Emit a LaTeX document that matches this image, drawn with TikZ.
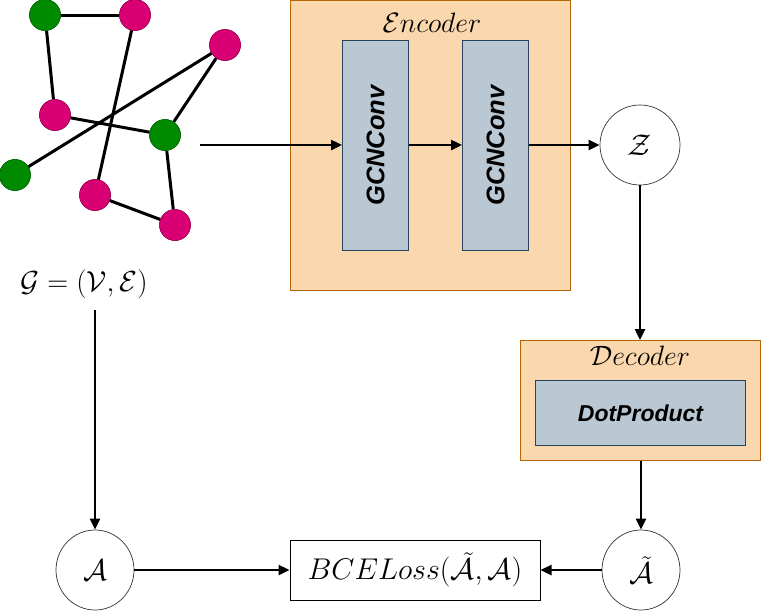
\RequirePackage{fix-cm}
\documentclass[tikz,border=0pt]{standalone}
\usepackage{fontspec}
\newfontfamily\arialf{Liberation Sans}
\usetikzlibrary{arrows.meta,shapes.geometric}
\definecolor{orfill}{HTML}{FAD7AC}
\definecolor{ordraw}{HTML}{B46504}
\definecolor{blfill}{HTML}{BAC8D3}
\definecolor{bldraw}{HTML}{23445D}
\definecolor{gnode}{HTML}{008A00}
\definecolor{pnode}{HTML}{D80073}
\tikzset{
  gn/.style={circle,fill=gnode,draw=gnode!70!black,line width=0.5pt,minimum size=31pt,inner sep=0pt},
  pn/.style={circle,fill=pnode,draw=pnode!70!black,line width=0.5pt,minimum size=31pt,inner sep=0pt},
  gedge/.style={line width=3pt,black},
  outerbox/.style={draw=ordraw,fill=orfill,line width=1pt},
  innerbox/.style={draw=bldraw,fill=blfill,line width=1pt,inner sep=0pt},
  arr/.style={line width=2.4pt,-{Triangle[length=11pt,width=10pt]}},
  roundn/.style={ellipse,draw=black!80,line width=0.7pt,minimum width=78pt,minimum height=80pt,inner sep=0pt,font=\fontsize{30}{32}\selectfont},
  lbl/.style={font=\fontsize{30}{32}\selectfont},
  sanslbl/.style={font=\arialf\bfseries\itshape\fontsize{23}{25}\selectfont},
  convlbl/.style={font=\arialf\bfseries\itshape\fontsize{25.5}{27}\selectfont},
}
\begin{document}
\begin{tikzpicture}[x=1pt,y=-1pt]
\useasboundingbox (0,0) rectangle (761,614);
% graph
\node[gn] (g1) at (45,15) {};
\node[pn] (p1) at (135,15) {};
\node[pn] (p2) at (225,45) {};
\node[pn] (p3) at (55,115) {};
\node[gn] (g2) at (165,135) {};
\node[gn] (g3) at (15,175) {};
\node[pn] (p4) at (95,195) {};
\node[pn] (p5) at (175,225) {};
\draw[gedge] (g1) -- (p1);
\draw[gedge] (g1) -- (p3);
\draw[gedge] (p1) -- (p4);
\draw[gedge] (p2) -- (g3);
\draw[gedge] (p2) -- (g2);
\draw[gedge] (p3) -- (g2);
\draw[gedge] (g2) -- (p5);
\draw[gedge] (p4) -- (p5);
\node[gn] at (g1) {};
\node[pn] at (p1) {};
\node[pn] at (p2) {};
\node[pn] at (p3) {};
\node[gn] at (g2) {};
\node[gn] at (g3) {};
\node[pn] at (p4) {};
\node[pn] at (p5) {};
\coordinate (gout) at (200,145);
% encoder
\node[outerbox,minimum width=280pt,minimum height=290pt,anchor=north west] (enc) at (290,0) {};
\node[font=\fontsize{28}{30}\selectfont] (enct) at (432,23) {$\mathcal{E}ncoder$};
\node[innerbox,minimum width=66pt,minimum height=210pt,anchor=north west] (c1) at (342,40) {};
\node[rotate=90,convlbl] at (c1.center) {GCNConv};
\node[innerbox,minimum width=66pt,minimum height=210pt,anchor=north west] (c2) at (462,40) {};
\node[rotate=90,convlbl] at (c2.center) {GCNConv};
\node[roundn,minimum width=80pt] (z) at (640,145) {$\mathcal{Z}$};
% decoder
\node[outerbox,minimum width=240pt,minimum height=120pt,anchor=north west] (dec) at (520,340) {};
\node[font=\fontsize{28}{30}\selectfont] (dect) at (640,356) {$\mathcal{D}ecoder$};
\node[innerbox,minimum width=210pt,minimum height=65pt,anchor=north west,sanslbl] (dp) at (535,380) {DotProduct};
% bottom
\node[font=\fontsize{29}{31}\selectfont] (glbl) at (84,284) {$\mathcal{G}=(\mathcal{V},\mathcal{E})$};
\coordinate (gdown) at (95,310);
\node[roundn] (a) at (95,570) {$\mathcal{A}$};
\node[roundn] (at) at (641,570) {$\tilde{\mathcal{A}}$};
\node[draw=black,line width=1pt,minimum width=250pt,minimum height=60pt,inner sep=0pt,lbl] (bce) at (415,570) {$BCELoss(\tilde{\mathcal{A}},\mathcal{A})$};
% arrows
\draw[arr] (gout) -- (c1.west |- gout);
\draw[arr] (c1.east |- gout) -- (c2.west |- gout);
\draw[arr] (c2.east |- gout) -- (z.west);
\draw[arr] (z.south) -- (dec.north -| z);
\draw[arr] (dec.south -| at) -- (at.north);
\draw[arr] (gdown) -- (a.north);
\draw[arr] (a.east) -- (bce.west);
\draw[arr] (at.west) -- (bce.east);
\end{tikzpicture}
\end{document}
